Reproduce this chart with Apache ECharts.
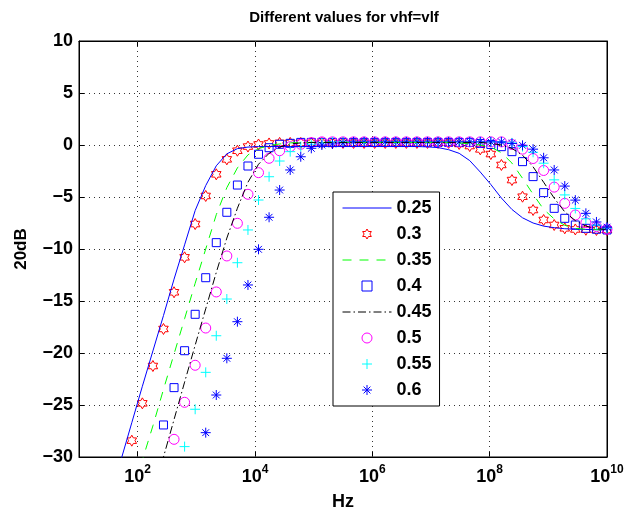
<!DOCTYPE html>
<html><head><meta charset="utf-8">
<script src="https://cdn.jsdelivr.net/npm/echarts@6/dist/echarts.min.js"></script>
<style>html,body{margin:0;padding:0;background:#fff}#c{width:636px;height:512px}</style>
</head><body><div id="c"></div>
<script>
// x positions: log10(Hz)
const logHz = [1.00,1.18,1.36,1.54,1.72,1.90,2.08,2.26,2.44,2.62,2.80,2.98,3.16,3.34,3.52,3.70,3.88,4.06,4.24,4.42,4.60,4.78,4.96,5.14,5.32,5.50,5.68,5.86,6.04,6.22,6.40,6.58,6.76,6.94,7.12,7.30,7.48,7.66,7.84,8.02,8.20,8.38,8.56,8.74,8.92,9.10,9.28,9.46,9.64,9.82,10.00];
const xTickExp = [2,4,6,8,10];
const xGridExp = [2,4,6,8];
const seriesNames = ['0.25','0.3','0.35','0.4','0.45','0.5','0.55','0.6'];

const s025 = [null,null,null,-33.6,-30.2,-26.7,-23.2,-19.8,-16.4,-12.9,-9.6,-6.3,-3.9,-2.0,-0.85,-0.35,-0.2,
  -0.15,-0.15,-0.15,-0.15,-0.15,-0.15,-0.15,-0.15,-0.15,-0.15,-0.15,-0.15,-0.15,-0.15,-0.15,-0.15,
  -0.18,-0.25,-0.45,-0.8,-1.5,-2.6,-3.8,-5.1,-6.2,-7.0,-7.5,-7.8,-7.95,-8.05,-8.1,-8.12,-8.14,-8.15];
const s03 = [null,null,null,null,null,-28.43,-24.84,-21.25,-17.69,-14.16,-10.8,-7.6,-4.9,-2.82,-1.38,-0.55,-0.15,0.05,0.15,
  0.2,0.2,0.2,0.2,0.2,0.2,0.2,0.2,0.2,0.2,0.2,0.2,0.2,0.2,0.2,0.2,0.2,
  0.1,-0.1,-0.42,-0.87,-1.92,-3.37,-4.97,-6.25,-7.21,-7.69,-8.01,-8.12,-8.15,-8.17,-8.17];
const s035 = [null,null,null,null,null,-34.0,-30.3,-27.0,-23.5,-20.1,-16.7,-13.3,-10.0,-6.7,-4.1,-2.2,-0.95,-0.35,-0.05,0.1,0.2,
  0.25,0.25,0.25,0.25,0.25,0.25,0.25,0.25,0.25,0.25,0.25,0.25,0.25,0.25,0.25,
  0.2,0.1,0.0,-0.2,-0.74,-1.74,-3.2,-4.73,-6.19,-7.11,-7.72,-8.02,-8.1,-8.15,-8.17];
const s04 = [null,null,null,null,null,null,null,null,-26.92,-23.33,-19.78,-16.28,-12.76,-9.39,-6.47,-3.85,-2.02,-0.89,-0.26,0.07,0.16,
  0.25,0.25,0.25,0.25,0.25,0.25,0.25,0.25,0.25,0.25,0.25,0.25,0.25,0.25,0.25,0.25,0.25,
  0.15,0.05,-0.16,-0.64,-1.6,-3.04,-4.58,-6.09,-7.05,-7.69,-8.01,-8.1,-8.17];
const s045 = [null,null,null,null,null,null,null,-33.5,-30.0,-26.4,-22.8,-19.25,-15.75,-12.25,-8.95,-6.08,-3.58,-1.85,-0.8,-0.2,0.1,0.2,
  0.25,0.25,0.25,0.25,0.25,0.25,0.25,0.25,0.25,0.25,0.25,0.25,0.25,0.25,0.25,0.25,0.25,
  0.15,0.0,-0.33,-0.98,-2.1,-3.58,-5.11,-6.43,-7.27,-7.8,-8.04,-8.12];
const s05 = [null,null,null,null,null,null,null,null,null,-28.3,-24.74,-21.18,-17.6,-14.13,-10.67,-7.53,-4.74,-2.66,-1.28,-0.55,-0.16,0.07,0.22,
  0.3,0.3,0.3,0.3,0.3,0.3,0.3,0.3,0.3,0.3,0.3,0.3,0.3,0.3,0.3,0.3,0.3,0.3,
  0.05,-0.4,-1.3,-2.45,-4.05,-5.61,-6.73,-7.47,-7.85,-8.08];
const s055 = [null,null,null,null,null,null,null,null,null,null,-29.0,-25.41,-21.86,-18.34,-14.81,-11.32,-8.17,-5.29,-3.05,-1.54,-0.64,-0.16,0.07,0.2,
  0.3,0.3,0.3,0.3,0.3,0.3,0.3,0.3,0.3,0.3,0.3,0.3,0.3,0.3,0.3,0.3,0.3,
  0.2,-0.15,-0.7,-1.75,-3.35,-4.8,-6.1,-7.1,-7.7,-8.0];
const s06 = [null,null,null,null,null,null,null,null,null,null,null,null,-27.66,-24.04,-20.51,-16.99,-13.46,-10.03,-6.95,-4.33,-2.4,-1.13,-0.32,0.0,0.1,0.2,
  0.3,0.3,0.3,0.3,0.3,0.3,0.3,0.3,0.3,0.3,0.3,0.3,0.3,0.3,0.3,
  0.15,-0.03,-0.4,-1.23,-2.4,-3.95,-5.3,-6.57,-7.4,-7.9];

const FONT = '"Liberation Sans", Arial, Helvetica, sans-serif';
const HEX = 'path://M10 0L12.887 5L18.66 5L15.774 10L18.66 15L12.887 15L10 20L7.113 15L1.34 15L4.226 10L1.34 5L7.113 5Z';
const SQUARE = 'path://M0 0L10 0L10 10L0 10Z';
const PLUS = 'path://M5 0L5 10M0 5L10 5';
const ASTER = 'path://M5 0L5 10M0 5L10 5M1.6 1.6L8.4 8.4M8.4 1.6L1.6 8.4';

function linePts(arr){ return logHz.map((x,i)=>[x,arr[i]]); }
function markPts(arr){ return logHz.map((x,i)=>[x,arr[i]]).filter(p=>p[1]!==null); }
function lineSeries(name, arr, color, type){
  return {name, type:'line', data: linePts(arr), symbol:'none', showSymbol:false, clip:true, silent:true,
    lineStyle:{color, width:1, type}, itemStyle:{color}};
}
function markSeries(name, arr, color, symbol, size){
  return {name, type:'scatter', data: markPts(arr), symbol, symbolSize:size, symbolKeepAspect:true, clip:true, silent:true,
    itemStyle:{color:'rgba(0,0,0,0)', borderColor:color, borderWidth:1, opacity:1}};
}
const minus = v => v < 0 ? '\u2212' + Math.abs(v) : String(v);
const tickFont = {color:'#000', fontFamily:FONT, fontWeight:'bold', fontSize:18};

const chart = echarts.init(document.getElementById('c'), null, {renderer:'canvas'});
chart.setOption({
  animation:false,
  backgroundColor:'#fff',
  title:{text:'Different values for vhf=vlf', left:344, top:10, padding:0, textAlign:'center',
    textStyle:{fontFamily:FONT, fontWeight:'bold', fontSize:15, color:'#000'}},
  grid:{left:79, top:41, width:528, height:416, show:true, borderColor:'#000', borderWidth:1, backgroundColor:'#fff', outerBoundsMode:'none', containLabel:false},
  legend:{
    data: seriesNames.map((n,i)=> (i===0||i===2||i===4) ? {name:n, itemStyle:{opacity:0}} : {name:n}),
    orient:'vertical', left:333, top:192, padding:[7,8,7,9], itemWidth:49, itemHeight:10, itemGap:8,
    borderColor:'#000', borderWidth:1, backgroundColor:'#fff', selectedMode:false,
    itemStyle:{borderWidth:1}, lineStyle:{width:1},
    textStyle:{fontFamily:FONT, fontWeight:'bold', fontSize:18, color:'#000', lineHeight:18}
  },
  xAxis:[{
    type:'value', min:1, max:10, interval:1, position:'bottom',
    axisLine:{show:true, onZero:false, lineStyle:{color:'#000', width:1}},
    axisTick:{show:true, inside:true, length:5, customValues:xGridExp, lineStyle:{color:'#000'}},
    axisLabel:{show:true, margin:7, showMinLabel:true, showMaxLabel:true, hideOverlap:false,
      formatter: v => xTickExp.includes(v) ? '{b|10}{s|' + v + '}' : '',
      rich:{
        b:{fontFamily:FONT, fontWeight:'bold', fontSize:18, lineHeight:18, color:'#000', padding:[8,0,0,0]},
        s:{fontFamily:FONT, fontWeight:'bold', fontSize:12, lineHeight:12, color:'#000', verticalAlign:'top'}
      }},
    splitLine:{show:false},
    name:'Hz', nameLocation:'middle', nameGap:36,
    nameTextStyle:{fontFamily:FONT, fontWeight:'bold', fontSize:18, color:'#000'}
  },{
    type:'value', min:1, max:10, interval:1, position:'top',
    axisLine:{show:true, onZero:false, lineStyle:{color:'#000', width:1}},
    axisTick:{show:true, inside:true, length:5, customValues:xGridExp, lineStyle:{color:'#000'}},
    axisLabel:{show:false}, splitLine:{show:false}
  }],
  yAxis:[{
    type:'value', min:-30, max:10, interval:5, position:'left',
    axisLine:{show:true, onZero:false, lineStyle:{color:'#000', width:1}},
    axisTick:{show:true, inside:true, length:5, lineStyle:{color:'#000'}},
    axisLabel:Object.assign({margin:6, formatter:minus}, tickFont),
    splitLine:{show:true, lineStyle:{type:[1,4], color:'#333', width:1}},
    name:'20dB', nameLocation:'middle', nameGap:49, nameRotate:90,
    nameTextStyle:{fontFamily:FONT, fontWeight:'bold', fontSize:17, color:'#000'}
  },{
    type:'value', min:-30, max:10, interval:5, position:'right',
    axisLine:{show:true, onZero:false, lineStyle:{color:'#000', width:1}},
    axisTick:{show:true, inside:true, length:5, lineStyle:{color:'#000'}},
    axisLabel:{show:false}, splitLine:{show:false}
  }],
  series:[
    {name:'vgrid', type:'line', data:[], silent:true, z:1,
      markLine:{silent:true, z:1, symbol:['none','none'], label:{show:false}, emphasis:{disabled:true},
        lineStyle:{type:[1,4], color:'#333', width:1},
        data: xGridExp.map(e=>({xAxis:e}))}},
    lineSeries('0.25', s025, '#0000ff', 'solid'),
    markSeries('0.3', s03, '#ff0000', HEX, 11),
    lineSeries('0.35', s035, '#00ff00', [9,8]),
    markSeries('0.4', s04, '#0000ff', SQUARE, 8),
    lineSeries('0.45', s045, '#000000', [8,3,1.5,3]),
    markSeries('0.5', s05, '#ff00ff', 'circle', 10),
    markSeries('0.55', s055, '#00ffff', PLUS, 10),
    markSeries('0.6', s06, '#0000ff', ASTER, 10)
  ]
});
</script></body></html>
